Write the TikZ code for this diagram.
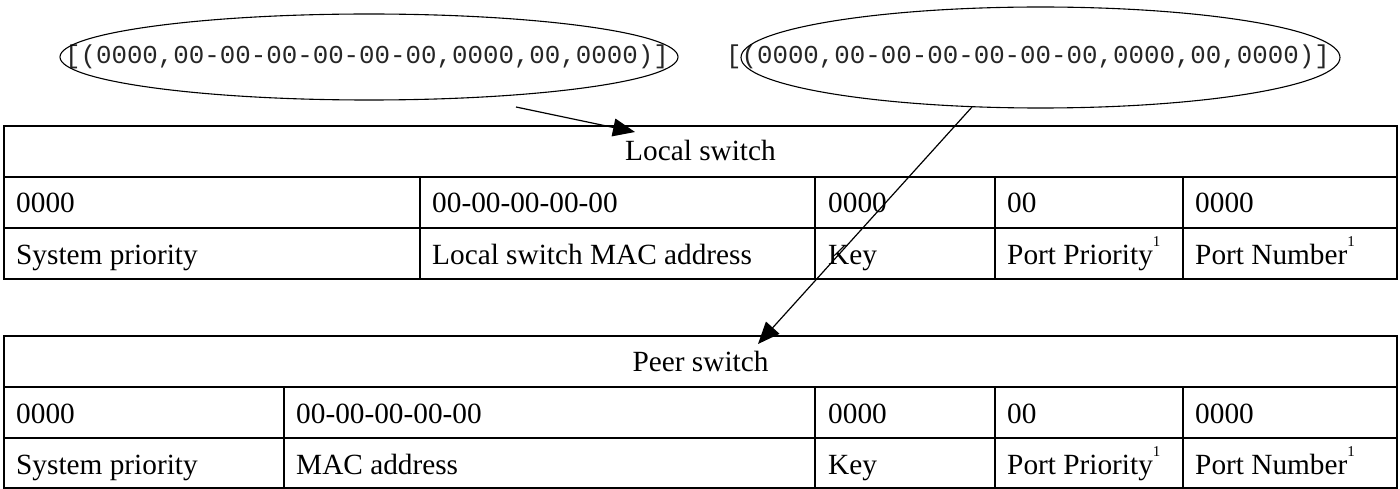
\documentclass[tikz,border=0pt]{standalone}
\usepackage{fontspec}
\setmainfont{Liberation Serif}
\newfontfamily\tuplemono{Liberation Mono}
\usetikzlibrary{arrows.meta,shapes.geometric}
\newcommand\cellfnt{\fontsize{29.3}{31}\selectfont}
\newcommand\tuplefnt{\tuplemono\fontsize{25.8}{28}\selectfont}
\newcommand\supone{\raisebox{0.6em}{\fontsize{15}{15}\selectfont 1}}
\begin{document}
\begin{tikzpicture}[x=1pt,y=-1pt,
  tline/.style={line width=1.4pt},
  tcell/.style={anchor=base west, inner sep=0pt, font=\cellfnt},
  thead/.style={anchor=base, inner sep=0pt, font=\cellfnt},
  tuple/.style={anchor=base, inner sep=0pt, font=\tuplefnt, text=black!85},
  oval/.style={draw, ellipse, inner sep=0pt, outer sep=0pt, line width=1.1pt},
  link/.style={line width=1.2pt, -{Triangle[length=22pt,width=18pt]}}]
\useasboundingbox (0,0) rectangle (1400,489);

% tuples and ovals
\node[tuple] (t1) at (367,64) {[(0000,00-00-00-00-00-00,0000,00,0000)]};
\node[tuple] (t2) at (1028,64) {[(0000,00-00-00-00-00-00,0000,00,0000)]};
\node[oval, minimum width=618pt, minimum height=86pt] (e1) at (369,57) {};
\node[oval, minimum width=599pt, minimum height=101pt] (e2) at (1040.5,57.5) {};

% local switch table
\draw[tline] (4,126) rectangle (1397,279);
\draw[tline] (4,177) -- (1397,177);
\draw[tline] (4,228) -- (1397,228);
\foreach \x in {420,815,995,1183} \draw[tline] (\x,177) -- (\x,279);
\node[thead] (lh) at (700.5,161) {Local switch};
\node[tcell] (l1) at (16,213) {0000};
\node[tcell] (l2) at (432,213) {00-00-00-00-00};
\node[tcell] (l3) at (828,213) {0000};
\node[tcell] (l4) at (1007,213) {00};
\node[tcell] (l5) at (1195,213) {0000};
\node[tcell] (l6) at (16,264) {System priority};
\node[tcell] (l7) at (432,264) {Local switch MAC address};
\node[tcell] (l8) at (828,264) {Key};
\node[tcell] (l9) at (1007,264) {Port Priority\supone};
\node[tcell] (l10) at (1195,264) {Port Number\supone};

% peer switch table
\draw[tline] (4,336) rectangle (1397,488);
\draw[tline] (4,387) -- (1397,387);
\draw[tline] (4,438) -- (1397,438);
\foreach \x in {284,815,995,1183} \draw[tline] (\x,387) -- (\x,488);
\node[thead] (ph) at (700.5,371) {Peer switch};
\node[tcell] (p1) at (16,423) {0000};
\node[tcell] (p2) at (296,423) {00-00-00-00-00};
\node[tcell] (p3) at (828,423) {0000};
\node[tcell] (p4) at (1007,423) {00};
\node[tcell] (p5) at (1195,423) {0000};
\node[tcell] (p6) at (16,474) {System priority};
\node[tcell] (p7) at (296,474) {MAC address};
\node[tcell] (p8) at (828,474) {Key};
\node[tcell] (p9) at (1007,474) {Port Priority\supone};
\node[tcell] (p10) at (1195,474) {Port Number\supone};

% arrows
\coordinate (a1) at (516,107);
\coordinate (a1t) at (635,132);
\coordinate (a2) at (972,107);
\coordinate (a2t) at (758,344);
\draw[link] (a1) -- (a1t);
\draw[link] (a2) -- (a2t);
\end{tikzpicture}
\end{document}
